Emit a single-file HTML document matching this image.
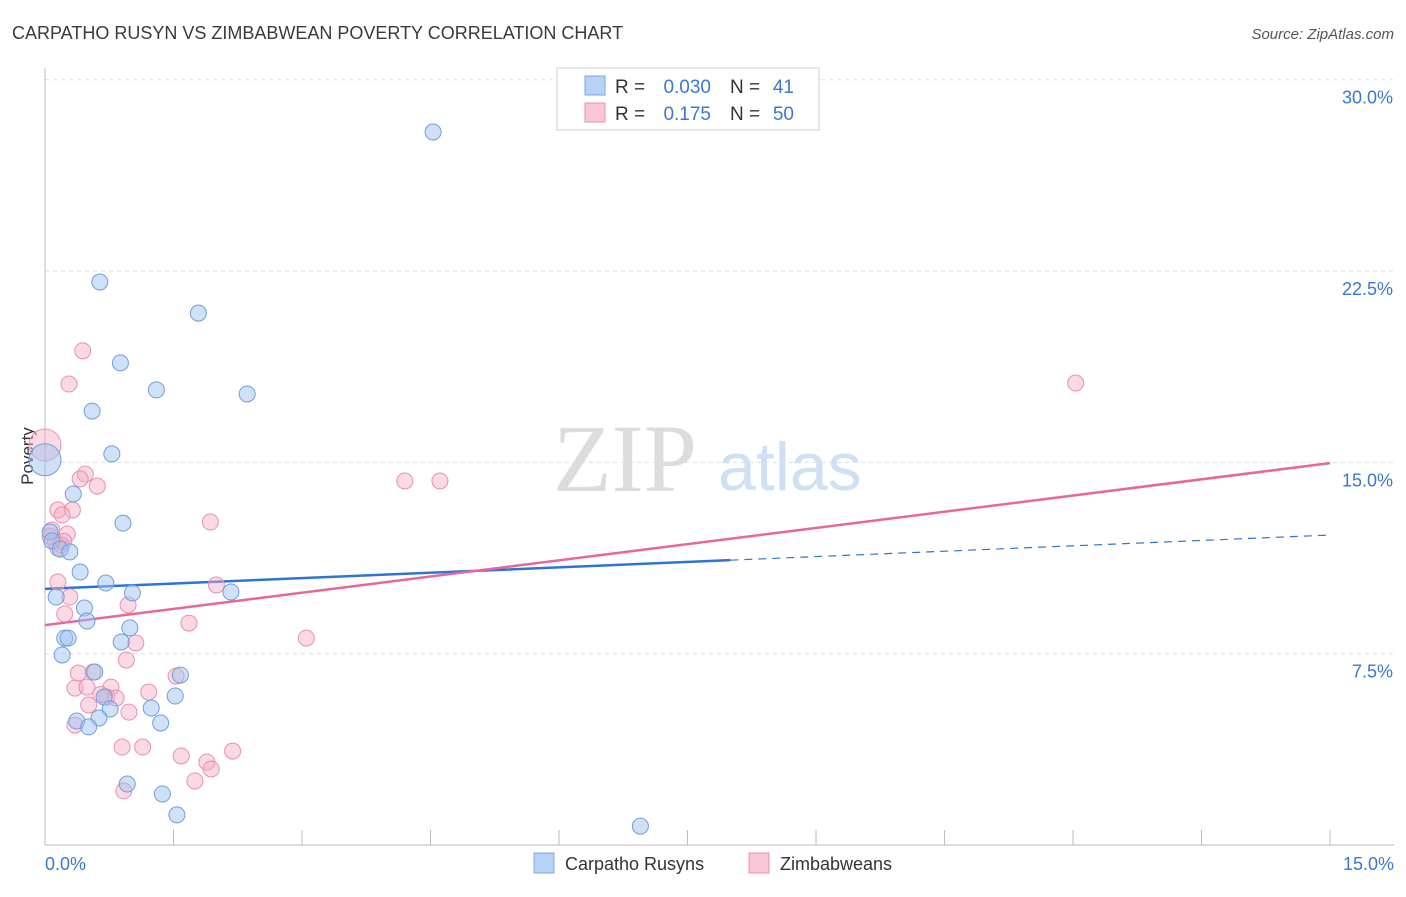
<!DOCTYPE html>
<html><head><meta charset="utf-8"><style>
body{margin:0;background:#fff;font-family:"Liberation Sans",sans-serif;}
svg text{font-family:"Liberation Sans",sans-serif;}
</style></head><body>
<svg width="1406" height="892" xmlns="http://www.w3.org/2000/svg">
<text x="12" y="39" font-size="18" fill="#3a3a3a">CARPATHO RUSYN VS ZIMBABWEAN POVERTY CORRELATION CHART</text>
<text x="1394" y="39" font-size="15" fill="#555" font-style="italic" text-anchor="end">Source: ZipAtlas.com</text>
<g id="grid"></g>
<line x1="45" y1="68" x2="45" y2="845" stroke="#bbb"/>
<line x1="45" y1="845" x2="1394" y2="845" stroke="#bbb"/>
<text x="33" y="456" font-size="17" fill="#333" text-anchor="middle" transform="rotate(-90 33 456)">Poverty</text>
<text x="553" y="491" font-size="96" fill="#dcdcdc" style="font-family:'Liberation Serif',serif">ZIP</text>
<text x="718" y="490" font-size="68" fill="#cfe0f5">atlas</text>
<g id="ticks"></g>
<g id="lines"></g>
<g id="pts"></g>
<text x="45" y="870" font-size="18" fill="#3a78d0">0.0%</text>
<text x="1394" y="870" font-size="18" fill="#3a78d0" text-anchor="end">15.0%</text>
<g>
<rect x="557" y="68" width="262" height="62" fill="#fff" stroke="#ccc"/>
<rect x="585" y="76" width="20" height="19" fill="#b8d2f5" stroke="#7aa6e0"/>
<rect x="585" y="103" width="20" height="19" fill="#f9c6d6" stroke="#e890b0"/>
<text x="615" y="93" font-size="19" fill="#333">R =</text>
<text x="711" y="93" font-size="19" fill="#3a78d0" text-anchor="end">0.030</text>
<text x="730" y="93" font-size="19" fill="#333">N =</text>
<text x="794" y="93" font-size="19" fill="#3a78d0" text-anchor="end">41</text>
<text x="615" y="120" font-size="19" fill="#333">R =</text>
<text x="711" y="120" font-size="19" fill="#3a78d0" text-anchor="end">0.175</text>
<text x="730" y="120" font-size="19" fill="#333">N =</text>
<text x="794" y="120" font-size="19" fill="#3a78d0" text-anchor="end">50</text>
</g>
<g>
<rect x="534" y="853" width="20" height="20" fill="#b8d2f5" stroke="#7aa6e0"/>
<text x="565" y="870" font-size="18" fill="#333">Carpatho Rusyns</text>
<rect x="749" y="853" width="20" height="20" fill="#f9c6d6" stroke="#e890b0"/>
<text x="780" y="870" font-size="18" fill="#333">Zimbabweans</text>
</g>
</svg>
<script>
const yTicks=[7.5,15,22.5,30];
const yTickLabels=["7.5%","15.0%","22.5%","30.0%"];
const xTicks=[0,1.5,3,4.5,6,7.5,9,10.5,12,13.5,15];
const blueX=[4.53,0.64,1.79,0.88,1.30,2.36,0.55,0.78,0,0.33,0.91,0.06,0.08,0.18,0.29,0.41,0.71,0.13,1.02,2.17,0.46,0.49,0.99,0.23,0.27,0.89,0.2,0.58,1.58,1.52,0.69,0.76,1.24,0.37,0.63,0.51,1.35,0.96,1.37,1.54,6.95];
const blueY=[27.95,22.07,20.85,18.9,17.84,17.68,17.01,15.33,15.1,13.76,12.62,12.27,11.92,11.6,11.49,10.7,10.27,9.72,9.88,9.92,9.29,8.78,8.51,8.11,8.11,7.96,7.45,6.78,6.66,5.84,5.8,5.33,5.37,4.86,4.98,4.63,4.78,2.39,2.0,1.18,0.74];
const pinkX=[12.03,0.44,0.28,0,0.47,0.41,0.61,4.2,4.61,0.15,0.32,0.2,1.93,0.08,0.26,0.12,0.19,0.15,0.15,2.0,0.29,0.97,0.23,1.68,3.05,1.06,0.95,0.56,0.39,1.53,0.35,0.49,0.77,1.21,0.72,0.83,0.51,0.98,0.35,0.9,1.14,2.19,1.59,1.89,1.94,1.75,0.92,0.06,0.22,0.65];
const pinkY=[18.11,19.37,18.07,15.68,14.54,14.35,14.07,14.27,14.27,13.13,13.13,12.94,12.66,12.35,12.19,11.88,11.76,11.64,10.31,10.19,9.72,9.41,9.06,8.7,8.11,7.92,7.25,6.78,6.74,6.62,6.15,6.19,6.19,6.0,5.8,5.76,5.49,5.21,4.7,3.84,3.84,3.68,3.49,3.25,2.98,2.51,2.12,12.1,11.9,5.9];
const blueTrend=[10.04,12.15];
const pinkTrend=[8.62,14.97];
const blueSolidEnd=8.0;
const sx=v=>45+v*85.67, sy=v=>845-v*25.51;
const NS="http://www.w3.org/2000/svg";
function mk(t,a,p){const e=document.createElementNS(NS,t);for(const k in a)e.setAttribute(k,a[k]);p.appendChild(e);return e;}
const grid=document.getElementById('grid');
yTicks.forEach((t,i)=>{
 const l=mk('line',{x1:45,x2:1394,y1:sy(t),y2:sy(t),stroke:'#ddd','stroke-dasharray':'4,4'},grid);
 
 
 const tx=mk('text',{x:1393,y:sy(t)+24,'font-size':18,fill:'#3a78d0','text-anchor':'end'},grid);
 tx.textContent=yTickLabels[i];
 
 
});
const tk=document.getElementById('ticks');
xTicks.forEach(t=>{
 const l=mk('line',{x1:sx(t),x2:sx(t),y1:830,y2:845,stroke:'#bbb'},tk);
 
 
});
const ln=document.getElementById('lines');
const bl=(v)=>blueTrend[0]+(blueTrend[1]-blueTrend[0])*v/15;
let a=mk('line',{x1:sx(0),y1:sy(bl(0)),x2:sx(blueSolidEnd),y2:sy(bl(blueSolidEnd)),stroke:'#2f74d0','stroke-width':2.5},ln);


a=mk('line',{x1:sx(blueSolidEnd),y1:sy(bl(blueSolidEnd)),x2:sx(15),y2:sy(bl(15)),stroke:'#2f74d0','stroke-width':1.2,'stroke-dasharray':'8,6'},ln);


a=mk('line',{x1:sx(0),y1:sy(pinkTrend[0]),x2:sx(15),y2:sy(pinkTrend[1]),stroke:'#e8679a','stroke-width':2.5},ln);


const pts=document.getElementById('pts');
pinkX.forEach((x,i)=>{
 const c=mk('circle',{cx:sx(x),cy:sy(pinkY[i]),r:i==3?16:8,fill:'rgba(245,170,198,0.45)',stroke:'#e890b0','stroke-width':1},pts);
 
 
});
blueX.forEach((x,i)=>{
 const c=mk('circle',{cx:sx(x),cy:sy(blueY[i]),r:i==8?16:8,fill:'rgba(160,195,240,0.5)',stroke:'#6f9edc','stroke-width':1},pts);
 
 
});
</script>
</body></html>
